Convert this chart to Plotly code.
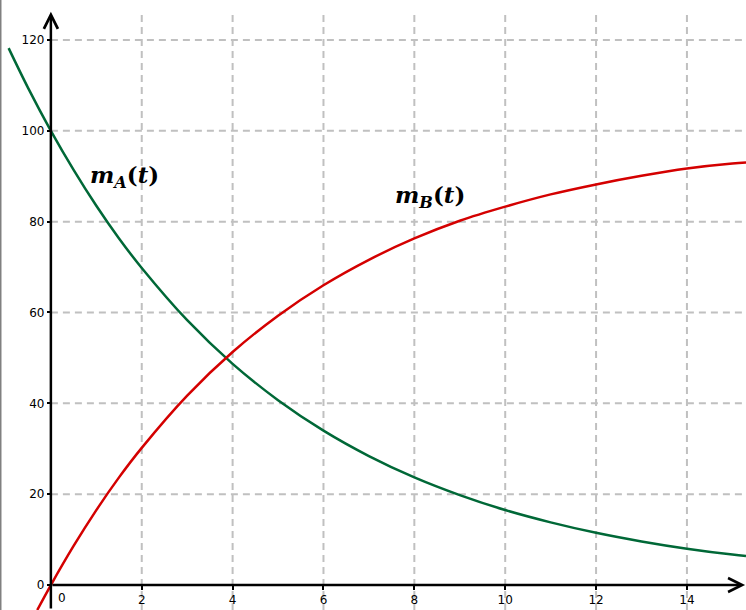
import plotly.graph_objects as go

# ---- data ----
t_A = [-0.93, -0.5, 0, 0.5, 1, 1.5, 2, 3, 4, 5, 6, 7, 8, 9, 10, 11, 12, 13, 14, 15, 15.3]
m_A = [118.2, 109.4, 100, 91.4, 83.5, 76.3, 69.8, 58.3, 48.7, 40.7, 34.0, 28.4, 23.7, 19.8, 16.5, 13.8, 11.5, 9.6, 8.0, 6.7, 6.4]
t_B = [-0.3, 0, 0.5, 1, 1.5, 2, 3, 4, 5, 6, 7, 8, 9, 10, 11, 12, 13, 14, 15, 15.3]
m_B = [-5.5, 0, 8.6, 16.5, 23.7, 30.2, 41.7, 51.3, 59.3, 66.0, 71.6, 76.3, 80.2, 83.3, 86.0, 88.2, 90.1, 91.7, 92.8, 93.0]
x_ticks = [2, 4, 6, 8, 10, 12, 14]
y_ticks = [0, 20, 40, 60, 80, 100, 120]
x_grid = [2, 4, 6, 8, 10, 12, 14]
y_grid = [20, 40, 60, 80, 100, 120]

X_RANGE = [-1.12, 15.3]
Y_RANGE = [-5.5, 128.8]
Y_TOP = 126.2

GREEN = "#006837"
RED = "#d40000"
GRID = "#c0c0c0"

fig = go.Figure()
fig.add_trace(go.Scatter(x=t_A, y=m_A, mode="lines", line=dict(color=GREEN, width=2.5, shape="spline"),
                         showlegend=False, hoverinfo="skip"))
fig.add_trace(go.Scatter(x=t_B, y=m_B, mode="lines", line=dict(color=RED, width=2.5, shape="spline"),
                         showlegend=False, hoverinfo="skip"))

shapes = []
for gx in x_grid:
    shapes.append(dict(type="line", xref="x", yref="y", x0=gx, x1=gx, y0=Y_RANGE[0], y1=Y_TOP,
                       line=dict(color=GRID, width=2, dash="7px,5px"), layer="below"))
for gy in y_grid:
    shapes.append(dict(type="line", xref="x", yref="y", x0=0, x1=X_RANGE[1], y0=gy, y1=gy,
                       line=dict(color=GRID, width=2, dash="7px,5px"), layer="below"))
# left border
shapes.append(dict(type="line", xref="paper", yref="paper", x0=0.001, x1=0.001, y0=0, y1=1,
                   line=dict(color="#808080", width=1.5)))

annotations = [
    # y axis with arrow
    dict(x=0, y=Y_TOP, ax=0, ay=Y_RANGE[0], xref="x", yref="y", axref="x", ayref="y",
         text="", showarrow=True, arrowhead=5, arrowsize=1.1, arrowwidth=2.5, arrowcolor="black", standoff=0),
    # x axis with arrow
    dict(x=X_RANGE[1] - 0.02, y=0, ax=0, ay=0, xref="x", yref="y", axref="x", ayref="y",
         text="", showarrow=True, arrowhead=5, arrowsize=1.1, arrowwidth=2.5, arrowcolor="black", standoff=0),
    dict(x=0, y=0, xref="x", yref="y", text="0", showarrow=False, xshift=11, yshift=-13,
         font=dict(family="DejaVu Sans", size=12, color="black")),
    dict(x=1.61, y=90.0, xref="x", yref="y", showarrow=False,
         text="<b><i>m</i></b><sub><b><i>A</i></b></sub><b>(<i>t</i>)</b>",
         font=dict(family="DejaVu Serif", size=23, color="black")),
    dict(x=8.34, y=85.6, xref="x", yref="y", showarrow=False,
         text="<b><i>m</i></b><sub><b><i>B</i></b></sub><b>(<i>t</i>)</b>",
         font=dict(family="DejaVu Serif", size=23, color="black")),
]

fig.update_layout(
    width=746, height=610,
    margin=dict(l=0, r=0, t=0, b=0),
    paper_bgcolor="white", plot_bgcolor="white",
    shapes=shapes, annotations=annotations,
    xaxis=dict(range=X_RANGE, showgrid=False, zeroline=False, showline=False,
               anchor="free", position=(0 - Y_RANGE[0]) / (Y_RANGE[1] - Y_RANGE[0]),
               tickvals=x_ticks, ticktext=[str(v) for v in x_ticks],
               ticks="outside", ticklen=4, tickwidth=2, tickcolor="black",
               tickfont=dict(family="DejaVu Sans", size=12, color="black")),
    yaxis=dict(range=Y_RANGE, showgrid=False, zeroline=False, showline=False,
               anchor="free", position=(0 - X_RANGE[0]) / (X_RANGE[1] - X_RANGE[0]),
               tickvals=y_ticks, ticktext=[str(v) for v in y_ticks],
               ticks="outside", ticklen=4, tickwidth=2, tickcolor="black",
               tickfont=dict(family="DejaVu Sans", size=12, color="black")),
)

fig.write_html("out.html", config={"displayModeBar": False},
               post_script="document.body.style.margin='0';document.body.style.overflow='hidden';")
